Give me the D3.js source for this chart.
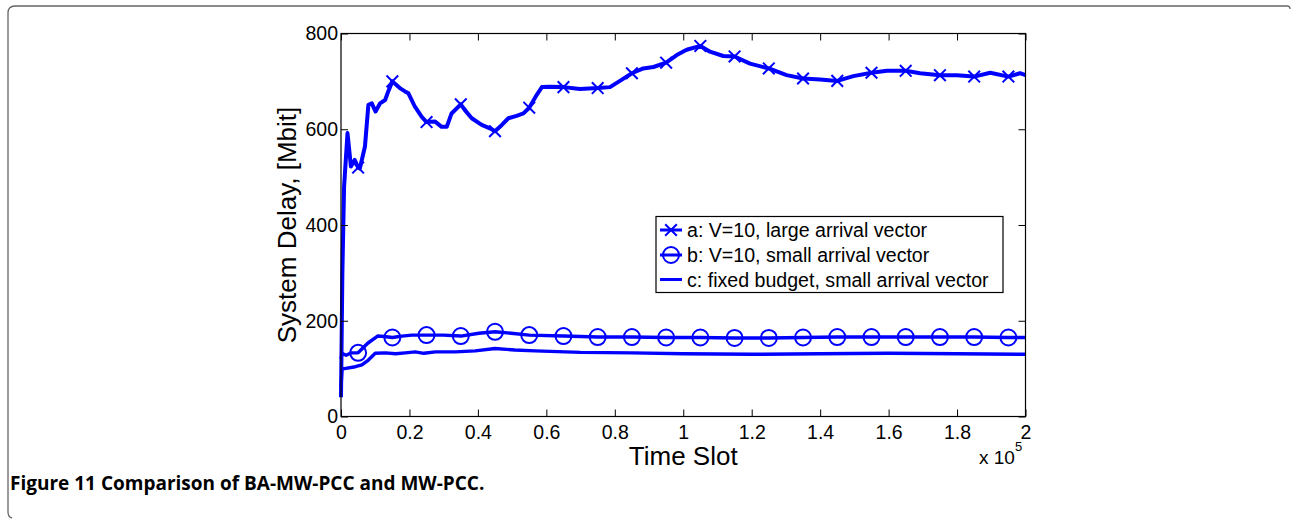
<!DOCTYPE html>
<html>
<head>
<meta charset="utf-8">
<script src="https://cdn.jsdelivr.net/npm/d3@7"></script>
<style>
  body { margin: 0; background: #fff; }
  svg { display: block; }
  text { font-family: "Liberation Sans", Arial, sans-serif; fill: #000; }
</style>
</head>
<body>
<svg width="1292" height="521"></svg>
<script>
// series values: [time slot, system delay in Mbit]
const seriesA = [
  [0, 40], [400, 300], [900, 480], [1900, 592], [2900, 522], [4000, 536], [5000, 520],
  [5500, 518], [7000, 564], [8000, 651], [9000, 654], [10100, 637], [11400, 654],
  [12900, 661], [13800, 679], [15000, 700], [17200, 686], [18700, 679], [19700, 675],
  [21600, 647], [23600, 626], [25000, 615], [27500, 616], [29400, 605], [30900, 605],
  [32300, 633], [35000, 652], [36200, 640], [38200, 623], [41100, 609], [43500, 602],
  [45000, 596], [47000, 609], [48900, 623], [51300, 628], [53300, 633], [55000, 645],
  [57200, 672], [58700, 688], [61100, 689], [65000, 688], [69800, 684], [75000, 686],
  [78600, 688], [81500, 701], [85000, 717], [88300, 727], [91300, 730], [95000, 739],
  [98100, 755], [101000, 766], [105000, 774], [107800, 762], [111700, 753], [115000, 752],
  [119500, 737], [125000, 727], [130200, 713], [135000, 706], [140000, 704], [145000, 701],
  [149700, 711], [155000, 718], [159500, 722], [165000, 722], [169200, 717], [175000, 713],
  [179900, 713], [185000, 710], [189700, 718], [195000, 710], [198400, 717], [200000, 713]
];
const seriesB = [
  [0, 120], [300, 132], [1500, 128], [3000, 133], [5000, 133], [7800, 153], [10700, 168],
  [12600, 167], [15000, 165], [17800, 168], [20700, 170], [25000, 170], [29900, 170],
  [35000, 168], [40300, 174], [45000, 177], [49700, 174], [55000, 170], [65000, 168],
  [75000, 166], [85000, 166], [95000, 165], [105000, 165], [115000, 164], [125000, 164],
  [135000, 165], [145000, 166], [155000, 166], [165000, 166], [175000, 166], [185000, 166],
  [195000, 165], [200000, 165]
];
const seriesC = [
  [0, 60], [300, 100], [1000, 100], [4200, 104], [6100, 108], [8000, 118], [10000, 132],
  [13000, 133], [15900, 131], [18800, 133], [21700, 135], [24200, 132], [27600, 135],
  [33400, 135], [39200, 137], [45000, 142], [50800, 139], [56700, 137], [70000, 134],
  [85000, 133], [100000, 131], [120000, 130], [140000, 131], [160000, 132], [180000, 131],
  [200000, 130]
];
// markers are placed every 1e4 slots starting at 5000
const markerSlots = d3.range(5000, 200000, 10000);

const xTicks = [0, 20000, 40000, 60000, 80000, 100000, 120000, 140000, 160000, 180000, 200000];
const yTicks = [0, 200, 400, 600, 800];
const legendLabels = [
  "a: V=10, large arrival vector",
  "b: V=10, small arrival vector",
  "c: fixed budget, small arrival vector"
];
const caption = "Figure 11 Comparison of BA-MW-PCC and MW-PCC.";

const blue = "#0000ff";
const plotL = 341, plotR = 1025.5, plotT = 33.5, plotB = 416.5;

const svg = d3.select("svg");

// page frame (partial rounded border)
svg.append("path")
  .attr("d", "M1290,9 Q1290,6 1287,6 L15,6 Q8,6 8,13 L8,512 Q8,517 12,518")
  .attr("fill", "none")
  .attr("stroke", "#666")
  .attr("stroke-width", 1.3);

const x = d3.scaleLinear().domain([0, 200000]).range([plotL, plotR]);
const y = d3.scaleLinear().domain([0, 800]).range([plotB, plotT]);

const line = d3.line().x(d => x(d[0])).y(d => y(d[1]));

// series lines
svg.append("path").datum(seriesC)
  .attr("d", line).attr("fill", "none").attr("stroke", blue)
  .attr("stroke-width", 3.4).attr("stroke-linejoin", "round");
svg.append("path").datum(seriesB)
  .attr("d", line).attr("fill", "none").attr("stroke", blue)
  .attr("stroke-width", 3.4).attr("stroke-linejoin", "round");
svg.append("path").datum(seriesA)
  .attr("d", line).attr("fill", "none").attr("stroke", blue)
  .attr("stroke-width", 4).attr("stroke-linejoin", "round");

const cross = d3.symbol().type(d3.symbolX).size(90);

svg.append("g").selectAll("path")
  .data(seriesA.filter(d => markerSlots.includes(d[0])))
  .join("path")
  .attr("transform", d => `translate(${x(d[0])},${y(d[1])})`)
  .attr("d", cross)
  .attr("fill", "none").attr("stroke", blue).attr("stroke-width", 2);

svg.append("g").selectAll("circle")
  .data(seriesB.filter(d => markerSlots.includes(d[0])))
  .join("circle")
  .attr("cx", d => x(d[0])).attr("cy", d => y(d[1])).attr("r", 8)
  .attr("fill", "none").attr("stroke", blue).attr("stroke-width", 2);

// axes box with inward ticks on all sides
const tickLen = 7;
const axisStyle = g => {
  g.select(".domain").remove();
  g.selectAll(".tick line").attr("stroke", "#000").attr("stroke-width", 1);
  g.selectAll(".tick text").attr("font-size", 19.5);
};

svg.append("g")
  .attr("transform", `translate(0,${plotB})`)
  .call(d3.axisBottom(x).tickValues(xTicks).tickFormat(d => d === 0 ? "0" : d3.format("~g")(d / 1e5))
    .tickSize(-tickLen).tickPadding(9))
  .call(axisStyle)
  .call(g => g.selectAll(".tick text").attr("dy", "0.71em"));

svg.append("g")
  .attr("transform", `translate(0,${plotT})`)
  .call(d3.axisTop(x).tickValues(xTicks).tickFormat("").tickSize(-tickLen))
  .call(axisStyle);

svg.append("g")
  .attr("transform", `translate(${plotL},0)`)
  .call(d3.axisLeft(y).tickValues(yTicks).tickSize(-tickLen).tickPadding(3))
  .call(axisStyle);

svg.append("g")
  .attr("transform", `translate(${plotR},0)`)
  .call(d3.axisRight(y).tickValues(yTicks).tickFormat("").tickSize(-tickLen))
  .call(axisStyle);

svg.append("rect")
  .attr("x", plotL).attr("y", plotT)
  .attr("width", plotR - plotL).attr("height", plotB - plotT)
  .attr("fill", "none").attr("stroke", "#000").attr("stroke-width", 1.2);

// exponent label
const expo = svg.append("text").attr("x", 979).attr("y", 464).attr("font-size", 19);
expo.append("tspan").text("x 10");
expo.append("tspan").attr("font-size", 13).attr("dy", -13).text("5");

// axis titles
svg.append("text")
  .attr("x", (plotL + plotR) / 2).attr("y", 465)
  .attr("text-anchor", "middle").attr("font-size", 26)
  .text("Time Slot");

svg.append("text")
  .attr("transform", `translate(296,${(plotT + plotB) / 2}) rotate(-90)`)
  .attr("text-anchor", "middle").attr("font-size", 26)
  .text("System Delay, [Mbit]");

// legend
const lg = svg.append("g");
lg.append("rect")
  .attr("x", 656).attr("y", 216.5).attr("width", 347).attr("height", 76)
  .attr("fill", "#fff").attr("stroke", "#000").attr("stroke-width", 1.2);
const rowY = [230, 255, 279.5];
legendLabels.forEach((label, i) => {
  lg.append("line")
    .attr("x1", 660).attr("x2", 682).attr("y1", rowY[i]).attr("y2", rowY[i])
    .attr("stroke", blue).attr("stroke-width", 3);
  if (i === 0) {
    lg.append("path").attr("transform", `translate(671,${rowY[i]})`)
      .attr("d", cross).attr("fill", "none").attr("stroke", blue).attr("stroke-width", 2);
  } else if (i === 1) {
    lg.append("circle").attr("cx", 671).attr("cy", rowY[i]).attr("r", 8)
      .attr("fill", "none").attr("stroke", blue).attr("stroke-width", 2);
  }
  lg.append("text")
    .attr("x", 687).attr("y", rowY[i]).attr("dy", "0.36em")
    .attr("font-size", 19.6).text(label);
});

// caption
svg.append("text")
  .attr("x", 10).attr("y", 490)
  .style("font-family", "'Open Sans', 'Noto Sans', sans-serif")
  .style("font-weight", "bold").style("font-size", "19px")
  .text(caption);
</script>
</body>
</html>
